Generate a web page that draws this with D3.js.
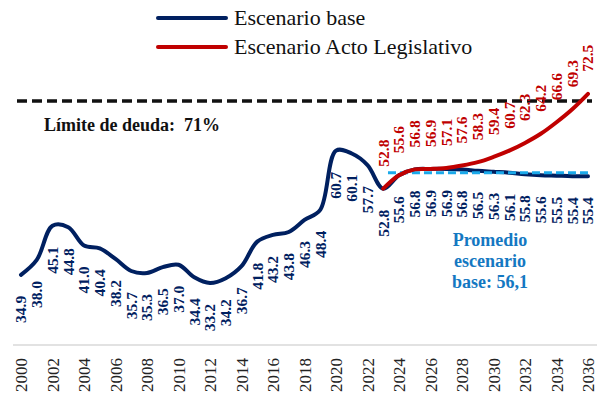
<!DOCTYPE html>
<html><head><meta charset="utf-8">
<script src="https://cdn.jsdelivr.net/npm/d3@7"></script>
<style>
html,body{margin:0;padding:0;background:#fff;}
svg{display:block;font-family:"Liberation Serif","Times New Roman",serif;}
</style></head>
<body>
<svg id="chart" width="597" height="403"></svg>
<script>
const years = d3.range(2000, 2037);
const baseValues = [34.9,38.0,45.1,44.8,41.0,40.4,38.2,35.7,35.3,36.5,37.0,34.4,33.2,34.2,36.7,41.8,43.2,43.8,46.3,48.4,60.7,60.1,57.7,52.8,55.6,56.8,56.9,56.9,56.8,56.5,56.3,56.1,55.8,55.6,55.5,55.4,55.4];
const actoYears = d3.range(2023, 2037);
const actoValues = [52.8,55.6,56.8,56.9,57.1,57.6,58.3,59.4,60.7,62.3,64.2,66.6,69.3,72.5];
const tickYears = d3.range(2000, 2037, 2);
const debtLimit = 71;
const baseAverage = 56.1;
const promYears = [2023.3, 2036.1];
const seriesNames = ["Escenario base", "Escenario Acto Legislativo"];
const limitLabel = "Límite de deuda:  71%";
const avgLabel = ["Promedio", "escenario", "base: 56,1"];

const svg = d3.select("#chart");
const x = d3.scaleLinear().domain([2000, 2036]).range([21, 588]);
const y = d3.scaleLinear().domain([20, 80]).range([346.6, 57.7]);

const BLUE = "#002060", RED = "#C00000", CYAN = "#1BA9EA", AVGTXT = "#1478C2";

// x axis
const xAxis = d3.axisBottom(x).tickValues(tickYears).tickFormat(d3.format("d")).tickSize(0);
const gx = svg.append("g").attr("transform", "translate(0,345)").call(xAxis);
gx.select(".domain").attr("stroke", "#d9d9d9").attr("stroke-width", 1.5).attr("d", "M13,0H597");
gx.selectAll("text")
  .attr("font-family", "Liberation Serif, Times New Roman, serif")
  .attr("font-size", 17).attr("fill", "#222")
  .attr("text-anchor", "end")
  .attr("transform", "rotate(-90)")
  .attr("x", -13).attr("y", 0).attr("dy", "0.35em");

// debt limit line
svg.append("line")
  .attr("x1", 17).attr("x2", 592).attr("y1", y(debtLimit)).attr("y2", y(debtLimit))
  .attr("stroke", "#111").attr("stroke-width", 3.5).attr("stroke-dasharray", "10,5");
svg.append("text").attr("x", 44).attr("y", 131)
  .attr("font-size", 18).attr("font-weight", "bold").attr("fill", "#111")
  .style("white-space", "pre").text(limitLabel);

const line = d3.line().curve(d3.curveCatmullRom.alpha(0.5)).x(d => x(d[0])).y(d => y(d[1]));
const baseData = years.map((yr, i) => [yr, baseValues[i]]);
const actoData = actoYears.map((yr, i) => [yr, actoValues[i]]);

svg.append("path").datum(baseData).attr("d", line)
  .attr("fill", "none").attr("stroke", BLUE).attr("stroke-width", 4).attr("stroke-linecap", "round");

svg.append("line")
  .attr("x1", x(promYears[0])).attr("x2", x(promYears[1]))
  .attr("y1", y(baseAverage)).attr("y2", y(baseAverage))
  .attr("stroke", CYAN).attr("stroke-width", 3).attr("stroke-dasharray", "8,4");

svg.append("path").datum(actoData).attr("d", line)
  .attr("fill", "none").attr("stroke", RED).attr("stroke-width", 4).attr("stroke-linecap", "round");

// base labels (below)
svg.append("g").selectAll("text").data(baseData).join("text")
  .attr("transform", d => `translate(${x(d[0])},${y(d[1]) + 21}) rotate(-90)`)
  .attr("dy", "0.35em").attr("text-anchor", "end")
  .attr("font-size", 15.5).attr("font-weight", "bold").attr("fill", BLUE)
  .text(d => d[1].toFixed(1));

// acto labels (above)
svg.append("g").selectAll("text").data(actoData).join("text")
  .attr("transform", d => `translate(${x(d[0])},${y(d[1]) - 22}) rotate(-90)`)
  .attr("dy", "0.35em").attr("text-anchor", "start")
  .attr("font-size", 15.5).attr("font-weight", "bold").attr("fill", RED)
  .text(d => d[1].toFixed(1));

// average annotation
svg.append("g").selectAll("text").data(avgLabel).join("text")
  .attr("x", 490).attr("y", (d, i) => 246 + i * 21)
  .attr("text-anchor", "middle").attr("font-size", 18).attr("font-weight", "bold").attr("fill", AVGTXT)
  .text(d => d);

// legend
const lg = svg.append("g");
[BLUE, RED].forEach((c, i) => {
  const yy = 18 + i * 29;
  lg.append("line").attr("x1", 158).attr("x2", 226).attr("y1", yy).attr("y2", yy)
    .attr("stroke", c).attr("stroke-width", 4).attr("stroke-linecap", "round");
  lg.append("text").attr("x", 234).attr("y", yy + 7).attr("font-size", 22).attr("fill", "#111")
    .text(seriesNames[i]);
});
</script>
</body></html>
